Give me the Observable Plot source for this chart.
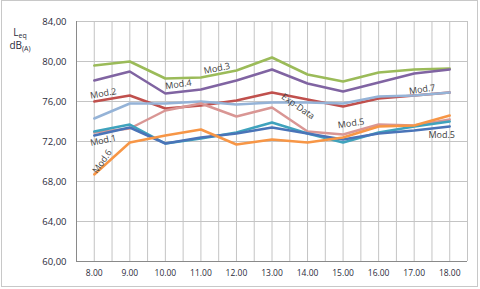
<!DOCTYPE html>
<html>
<head>
<meta charset="utf-8">
<script src="https://cdn.jsdelivr.net/npm/d3@7"></script>
<script src="https://cdn.jsdelivr.net/npm/@observablehq/plot@0.6"></script>
<style>
  html, body { margin: 0; padding: 0; background: #fff; }
</style>
</head>
<body>
<div id="chart"></div>
<script>
const hours = [8, 9, 10, 11, 12, 13, 14, 15, 16, 17, 18];
const hourLabels = ["8.00", "9.00", "10.00", "11.00", "12.00", "13.00", "14.00", "15.00", "16.00", "17.00", "18.00"];
const yTicks = [60, 64, 68, 72, 76, 80, 84];

const mod3    = [79.6, 80.0, 78.3, 78.4, 79.1, 80.4, 78.7, 78.0, 78.9, 79.2, 79.3];
const mod4    = [78.1, 79.0, 76.8, 77.2, 78.1, 79.2, 77.8, 77.0, 77.9, 78.8, 79.2];
const mod2    = [76.0, 76.6, 75.3, 75.6, 76.1, 76.9, 76.2, 75.5, 76.3, 76.6, 76.9];
const mod7    = [74.3, 75.8, 75.8, 76.0, 75.7, 75.9, 75.9, 75.8, 76.5, 76.6, 76.9];
const expData = [72.9, 73.3, 75.1, 75.8, 74.5, 75.4, 73.0, 72.7, 73.7, 73.6, 74.2];
const mod5    = [73.0, 73.7, 71.8, 72.3, 72.9, 73.9, 72.8, 71.9, 72.9, 73.5, 74.0];
const mod1    = [72.6, 73.4, 71.8, 72.4, 72.8, 73.4, 72.8, 72.2, 72.8, 73.1, 73.5];
const mod6    = [68.7, 71.9, 72.6, 73.2, 71.7, 72.2, 71.9, 72.4, 73.5, 73.6, 74.6];

const seriesNames  = ["Mod.3", "Mod.4", "Mod.2", "Mod.7", "Exp-Data", "Mod.5", "Mod.1", "Mod.6"];
const seriesValues = [mod3, mod4, mod2, mod7, expData, mod5, mod1, mod6];
const seriesColors = ["#9bbb59", "#8064a2", "#c0504d", "#95b3d7", "#d99694", "#3fa3bd", "#4a74b8", "#f79646"];

// Labels anchored to a point of a series: [text, series, hour index, dx, dy, rotate]
const labelText   = ["Mod.2", "Mod.4", "Mod.3", "Exp-Data", "Mod.5", "Mod.7", "Mod.5", "Mod.1", "Mod.6"];
const labelSeries = ["Mod.2", "Mod.4", "Mod.3", "Exp-Data", "Exp-Data", "Mod.7", "Mod.1", "Mod.1", "Mod.6"];
const labelHour   = [0, 2, 3, 5, 7, 9, 10, 0, 0];

const rows = [];
seriesNames.forEach((name, s) => {
  hours.forEach((h, i) => rows.push({series: name, hour: h, value: seriesValues[s][i]}));
});

const labelRows = labelText.map((t, k) => {
  const s = seriesNames.indexOf(labelSeries[k]);
  return {text: t, hour: hours[labelHour[k]], value: seriesValues[s][labelHour[k]], k};
});
const labelDx  = [9, 13, 16, 26, 8, 8, -8, 9, 8];
const labelDy  = [-8, -9, -9, -1, -11, -6, 9, 5, -13];
const labelRot = [-10, -8, -12, 35, -8, -8, 0, -12, -55];

const gridXs = d3.range(7.5, 18.51, 0.5);

const marks = [
  Plot.gridX(gridXs, {stroke: "#c4c4c4", strokeOpacity: 1, strokeWidth: 1}),
  Plot.gridY(yTicks, {stroke: "#c4c4c4", strokeOpacity: 1, strokeWidth: 1}),
  Plot.ruleX([7.5], {stroke: "#8a8a8a"}),
  Plot.ruleY([60], {stroke: "#8a8a8a"}),
  Plot.lineY(rows, {
    x: "hour", y: "value", z: "series",
    stroke: "series", strokeWidth: 2.5, strokeLinejoin: "miter"
  })
];
labelRows.forEach((d, k) => {
  marks.push(Plot.text([d], {
    x: "hour", y: "value", text: "text",
    dx: labelDx[k], dy: labelDy[k], rotate: labelRot[k],
    fill: "#404040", fontSize: 9, fontFamily: "Open Sans"
  }));
});

const chart = Plot.plot({
  width: 480,
  height: 289,
  marginLeft: 76,
  marginRight: 13,
  marginTop: 21,
  marginBottom: 28,
  style: {fontFamily: "Open Sans", fontSize: "9.5px", color: "#2b2b3b", background: "#fff"},
  x: {domain: [7.5, 18.5], ticks: hours, tickFormat: (d) => hourLabels[hours.indexOf(d)], tickSize: 0, tickPadding: 8, label: null},
  y: {domain: [60, 84], ticks: yTicks, tickFormat: (d) => d.toFixed(2).replace(".", ","), tickSize: 0, tickPadding: 10, label: null},
  color: {domain: seriesNames, range: seriesColors},
  marks
});

const svg = d3.select(chart);
svg.select("g[aria-label='x-axis tick label']").attr("font-size", 8.5);
svg.append("rect")
  .attr("x", 1.5).attr("y", 0.5).attr("width", 476).attr("height", 286)
  .attr("fill", "none").attr("stroke", "#c8c8c8");
const t1 = svg.append("text").attr("x", 20).attr("y", 36)
  .attr("font-family", "Open Sans").attr("font-size", 10).attr("fill", "#2b2b3b");
t1.append("tspan").text("L");
t1.append("tspan").attr("font-size", 7).attr("dy", 2).text("eq");
const t2 = svg.append("text").attr("x", 20).attr("y", 49)
  .attr("font-family", "Open Sans").attr("font-size", 10).attr("fill", "#2b2b3b");
t2.append("tspan").text("dB");
t2.append("tspan").attr("font-size", 7).attr("dy", 2).text("(A)");

document.getElementById("chart").appendChild(chart);
</script>
</body>
</html>
